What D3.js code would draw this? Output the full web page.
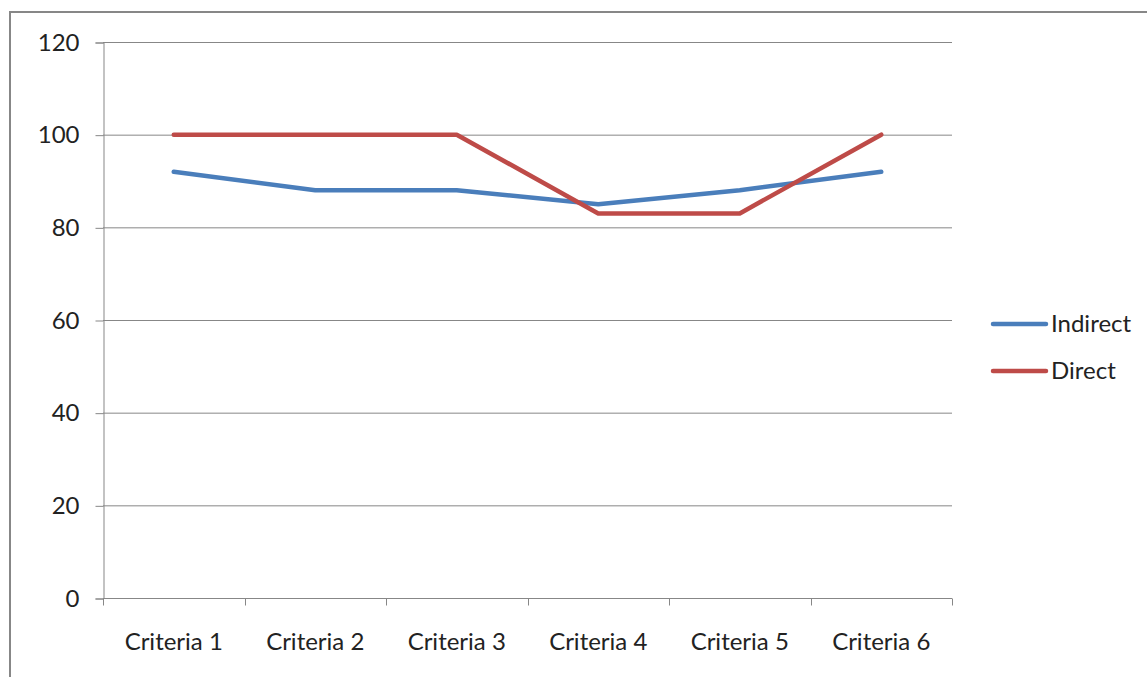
<!DOCTYPE html>
<html>
<head>
<meta charset="utf-8">
<script src="https://cdn.jsdelivr.net/npm/d3@7"></script>
<style>
  body { margin: 0; background: #fff; }
  svg text { font-family: Lato, "Open Sans", sans-serif; fill: #222; font-size: 24px; }
</style>
</head>
<body>
<div class="chart"></div>
<script>
var categories = ["Criteria 1", "Criteria 2", "Criteria 3", "Criteria 4", "Criteria 5", "Criteria 6"];
var indirect = [92, 88, 88, 85, 88, 92];
var direct = [100, 100, 100, 83, 83, 100];
var yTicks = [0, 20, 40, 60, 80, 100, 120];

var seriesList = [
  { name: "Indirect", values: indirect, color: "#4a7ebb" },
  { name: "Direct", values: direct, color: "#be4b48" }
];

var svgWidth = 1147, svgHeight = 677;
var plot = { left: 103, right: 952, top: 42, bottom: 598 };

var svg = d3.select(".chart").append("svg")
    .attr("width", svgWidth)
    .attr("height", svgHeight);

// outer chart frame
svg.append("rect")
    .attr("x", 10).attr("y", 12)
    .attr("width", 1160).attr("height", 700)
    .attr("fill", "none")
    .attr("stroke", "#878787")
    .attr("stroke-width", 2);

var x = d3.scaleBand()
    .domain(categories)
    .range([plot.left, plot.right]);

var y = d3.scaleLinear()
    .domain([0, 120])
    .range([plot.bottom, plot.top]);

// gridlines
svg.append("g")
    .selectAll("line")
    .data(yTicks.slice(1))
    .enter().append("line")
    .attr("x1", plot.left).attr("x2", plot.right)
    .attr("y1", function(d) { return y(d) + 0.5; })
    .attr("y2", function(d) { return y(d) + 0.5; })
    .attr("stroke", "#878787")
    .attr("stroke-width", 1);

// y axis
var yAxis = d3.axisLeft(y).tickValues(yTicks).tickSize(8).tickPadding(16);
var gy = svg.append("g")
    .attr("transform", "translate(" + (plot.left + 0.5) + ",0.5)")
    .call(yAxis)
    .attr("font-size", null).attr("font-family", null);
gy.selectAll("path, line").attr("stroke", "#878787");
gy.selectAll("text").attr("fill", null);

// x axis with ticks at band edges
var xAxis = d3.axisBottom(x).tickSize(0).tickPadding(34);
var gx = svg.append("g")
    .attr("transform", "translate(0," + (plot.bottom + 0.5) + ")")
    .call(xAxis)
    .attr("font-size", null).attr("font-family", null);
gx.select("path").attr("stroke", "#878787").attr("d", "M" + plot.left + ",0H" + plot.right);
gx.selectAll("text").attr("fill", null);

var edges = categories.map(function(c) { return x(c); }).concat([plot.right]);
gx.selectAll(".edge")
    .data(edges)
    .enter().append("line")
    .attr("class", "edge")
    .attr("x1", function(d) { return Math.round(d) + 0.5; })
    .attr("x2", function(d) { return Math.round(d) + 0.5; })
    .attr("y1", 0).attr("y2", 7)
    .attr("stroke", "#878787");

// lines
var line = d3.line()
    .x(function(d, i) { return x(categories[i]) + x.bandwidth() / 2; })
    .y(function(d) { return y(d); });

svg.selectAll(".series")
    .data(seriesList)
    .enter().append("path")
    .attr("class", "series")
    .attr("d", function(s) { return line(s.values); })
    .attr("fill", "none")
    .attr("stroke", function(s) { return s.color; })
    .attr("stroke-width", 4.5)
    .attr("stroke-linejoin", "round")
    .attr("stroke-linecap", "round");

// legend
var legend = svg.selectAll(".legend")
    .data(seriesList)
    .enter().append("g")
    .attr("class", "legend")
    .attr("transform", function(d, i) { return "translate(993," + (324 + i * 47) + ")"; });

legend.append("line")
    .attr("x1", 0).attr("x2", 53)
    .attr("stroke", function(d) { return d.color; })
    .attr("stroke-width", 4.5)
    .attr("stroke-linecap", "round");

legend.append("text")
    .attr("x", 58)
    .attr("dy", "0.35em")
    .text(function(d) { return d.name; });
</script>
</body>
</html>
